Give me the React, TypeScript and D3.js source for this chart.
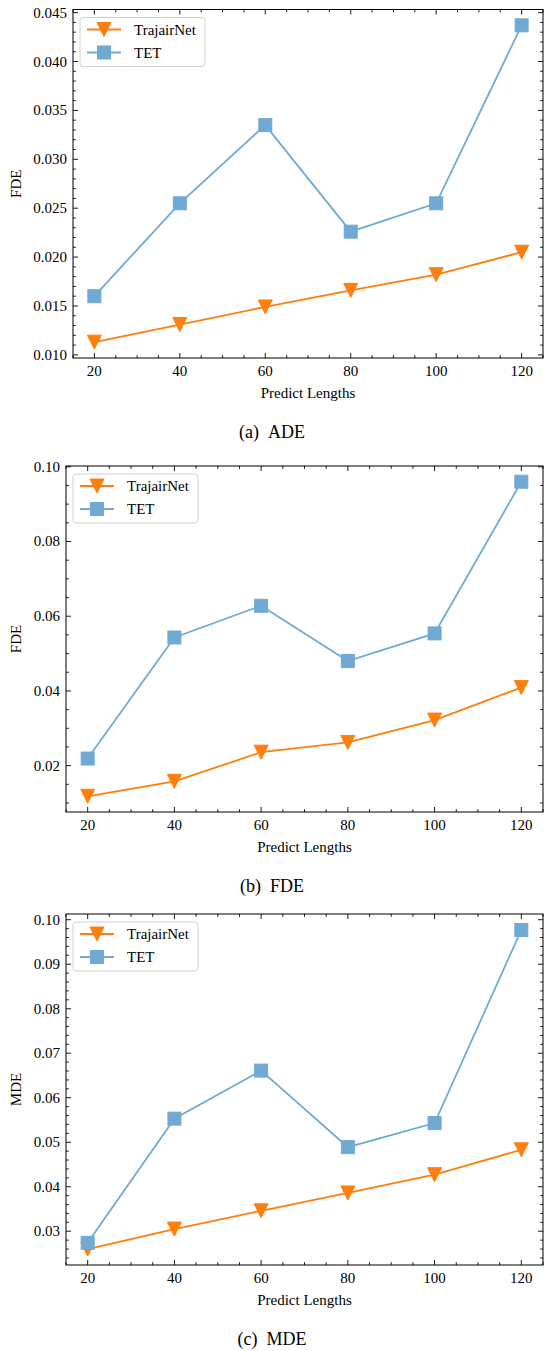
import React from "react";
import * as d3 from "d3";

const lengths = [20, 40, 60, 80, 100, 120];
const xTicks = [20, 40, 60, 80, 100, 120];

const adeTrajair = [0.0113, 0.0131, 0.0149, 0.0166, 0.0182, 0.0205];
const adeTET = [0.016, 0.0255, 0.0335, 0.0226, 0.0255, 0.0437];
const adeYTicks = [0.01, 0.015, 0.02, 0.025, 0.03, 0.035, 0.04, 0.045];

const fdeTrajair = [0.0118, 0.0158, 0.0236, 0.0262, 0.0322, 0.0409];
const fdeTET = [0.0219, 0.0543, 0.0628, 0.048, 0.0554, 0.096];
const fdeYTicks = [0.02, 0.04, 0.06, 0.08, 0.1];

const mdeTrajair = [0.026, 0.0305, 0.0346, 0.0386, 0.0427, 0.0483];
const mdeTET = [0.0274, 0.0553, 0.0661, 0.0489, 0.0543, 0.0977];
const mdeYTicks = [0.03, 0.04, 0.05, 0.06, 0.07, 0.08, 0.09, 0.1];

const seriesNames = ["TrajairNet", "TET"];
const ORANGE = "#ff7f0e";
const BLUE = "#70aad4";
const FONT = "'Liberation Serif', 'Times New Roman', serif";

type PanelProps = {
  left: number;
  right: number;
  top: number;
  bottom: number;
  a: number[];
  b: number[];
  yTicks: number[];
  yMinorStep: number;
  decimals: number;
  ylabel: string;
  capLetter: string;
  capText: string;
};

function Triangle({ x, y, s, color }: { x: number; y: number; s: number; color: string }) {
  const h = s / 2;
  return (
    <path
      d={`M${x - h},${y - h}L${x + h},${y - h}L${x},${y + h}Z`}
      fill={color}
      stroke={color}
      strokeWidth={1}
      strokeLinejoin="miter"
    />
  );
}

function Square({ x, y, s, color }: { x: number; y: number; s: number; color: string }) {
  return <rect x={x - s / 2} y={y - s / 2} width={s} height={s} fill={color} stroke={color} strokeWidth={1} />;
}

function Panel(p: PanelProps) {
  const x = d3.scaleLinear().domain([15, 125]).range([p.left, p.right]);
  const all = p.a.concat(p.b);
  const mn = d3.min(all) as number;
  const mx = d3.max(all) as number;
  const m = (mx - mn) * 0.05;
  const y = d3.scaleLinear().domain([mn - m, mx + m]).range([p.bottom, p.top]);
  const line = d3
    .line<number>()
    .x((_, i) => x(lengths[i]))
    .y((d) => y(d));

  const xMinor = d3.range(15, 125.001, 5);
  const [y0, y1] = y.domain();
  const yMinor = d3
    .range(Math.ceil(y0 / p.yMinorStep - 1e-9) * p.yMinorStep, y1 + 1e-12, p.yMinorStep)
    .filter((v) => v >= y0 && v <= y1);

  const MAJ = 5;
  const MIN = 2.8;
  const midX = (p.left + p.right) / 2;
  const midY = (p.top + p.bottom) / 2;

  const legX = p.left + 7;
  const legY = p.top + 8;

  return (
    <g fontFamily={FONT}>
      {/* series */}
      <path d={line(p.a) || ""} fill="none" stroke={ORANGE} strokeWidth={1.8} />
      {p.a.map((v, i) => (
        <Triangle key={"a" + i} x={x(lengths[i])} y={y(v)} s={14} color={ORANGE} />
      ))}
      <path d={line(p.b) || ""} fill="none" stroke={BLUE} strokeWidth={1.8} />
      {p.b.map((v, i) => (
        <Square key={"b" + i} x={x(lengths[i])} y={y(v)} s={13} color={BLUE} />
      ))}

      {/* ticks */}
      {xMinor.map((t) => {
        const major = xTicks.includes(Math.round(t));
        const L = major ? MAJ : MIN;
        return (
          <g key={"xt" + t}>
            <line x1={x(t)} x2={x(t)} y1={p.bottom} y2={p.bottom - L} stroke="#000" strokeWidth={0.9} />
            <line x1={x(t)} x2={x(t)} y1={p.top} y2={p.top + L} stroke="#000" strokeWidth={0.9} />
          </g>
        );
      })}
      {yMinor.map((t, i) => {
        const major = p.yTicks.some((v) => Math.abs(v - t) < 1e-9);
        const L = major ? MAJ : MIN;
        return (
          <g key={"yt" + i}>
            <line x1={p.left} x2={p.left + L} y1={y(t)} y2={y(t)} stroke="#000" strokeWidth={0.9} />
            <line x1={p.right} x2={p.right - L} y1={y(t)} y2={y(t)} stroke="#000" strokeWidth={0.9} />
          </g>
        );
      })}

      {/* frame */}
      <rect x={p.left} y={p.top} width={p.right - p.left} height={p.bottom - p.top} fill="none" stroke="#000" strokeWidth={1} />

      {/* tick labels */}
      {xTicks.map((t) => (
        <text key={"xl" + t} x={x(t)} y={p.bottom + 18} textAnchor="middle" fontSize={15}>
          {t}
        </text>
      ))}
      {p.yTicks.map((t) => (
        <text key={"yl" + t} x={p.left - 6} y={y(t) + 5} textAnchor="end" fontSize={15}>
          {t.toFixed(p.decimals)}
        </text>
      ))}

      {/* axis labels */}
      <text x={midX} y={p.bottom + 40} textAnchor="middle" fontSize={15}>
        Predict Lengths
      </text>
      <text transform={`translate(${21},${midY}) rotate(-90)`} textAnchor="middle" fontSize={15}>
        {p.ylabel}
      </text>

      {/* caption */}
      <text x={272} y={p.bottom + 80} textAnchor="middle" fontSize={18}>
        {p.capLetter}
        <tspan dx={9}>{p.capText}</tspan>
      </text>

      {/* legend */}
      <rect x={legX} y={legY} width={125} height={49} rx={3} ry={3} fill="#fff" fillOpacity={0.8} stroke="#d0d0d0" strokeWidth={1} />
      <line x1={legX + 7} x2={legX + 41} y1={legY + 12} y2={legY + 12} stroke={ORANGE} strokeWidth={1.8} />
      <Triangle x={legX + 24} y={legY + 12} s={14} color={ORANGE} />
      <text x={legX + 54} y={legY + 17} fontSize={15}>
        {seriesNames[0]}
      </text>
      <line x1={legX + 7} x2={legX + 41} y1={legY + 35} y2={legY + 35} stroke={BLUE} strokeWidth={1.8} />
      <Square x={legX + 24} y={legY + 35} s={13} color={BLUE} />
      <text x={legX + 54} y={legY + 40} fontSize={15}>
        {seriesNames[1]}
      </text>
    </g>
  );
}

export default function App() {
  return (
    <svg
      width={545}
      height={1351}
      style={{ position: "absolute", left: 0, top: 0, background: "#fff" }}
    >
      <rect width={545} height={1351} fill="#fff" />
      <Panel left={73} right={543} top={9.5} bottom={358} a={adeTrajair} b={adeTET} yTicks={adeYTicks} yMinorStep={0.001} decimals={3} ylabel="FDE" capLetter="(a)" capText="ADE" />
      <Panel left={66} right={543} top={466} bottom={812} a={fdeTrajair} b={fdeTET} yTicks={fdeYTicks} yMinorStep={0.005} decimals={2} ylabel="FDE" capLetter="(b)" capText="FDE" />
      <Panel left={66} right={543} top={914} bottom={1265} a={mdeTrajair} b={mdeTET} yTicks={mdeYTicks} yMinorStep={0.002} decimals={2} ylabel="MDE" capLetter="(c)" capText="MDE" />
    </svg>
  );
}
